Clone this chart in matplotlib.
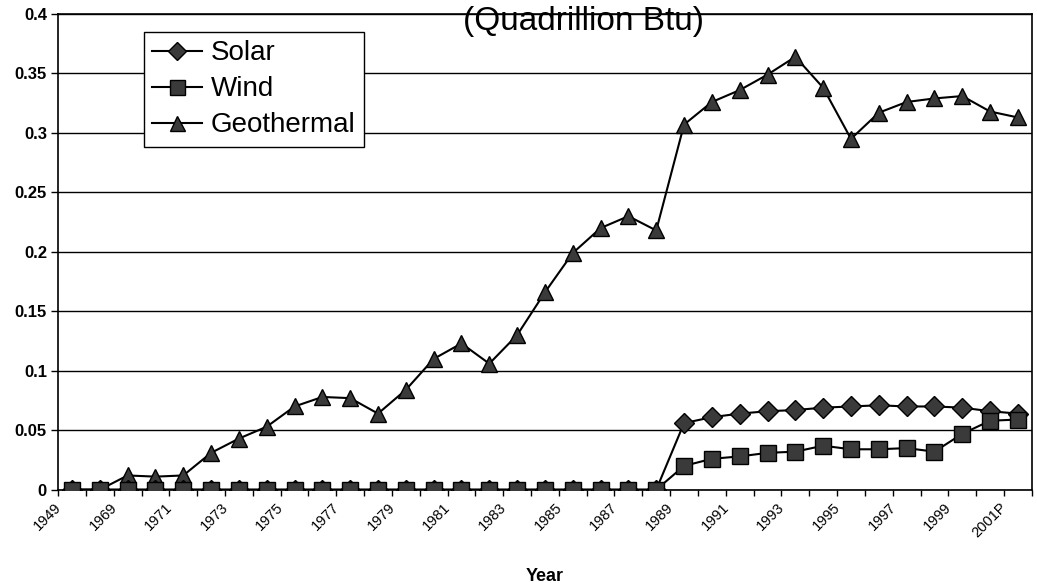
import numpy as np
import matplotlib
matplotlib.use("Agg")
import matplotlib.pyplot as plt
import matplotlib.transforms as mtransforms

# category labels (every other one is shown on the axis)
years = ["1949", "1959", "1969", "1970", "1971", "1972", "1973", "1974", "1975",
         "1976", "1977", "1978", "1979", "1980", "1981", "1982", "1983", "1984",
         "1985", "1986", "1987", "1988", "1989", "1990", "1991", "1992", "1993",
         "1994", "1995", "1996", "1997", "1998", "1999", "2000", "2001P"]

solar = [0, 0, 0, 0, 0, 0, 0, 0, 0, 0, 0, 0, 0, 0, 0, 0, 0, 0, 0, 0, 0, 0,
         0.056, 0.061, 0.064, 0.066, 0.067, 0.069, 0.070, 0.071, 0.070, 0.070,
         0.069, 0.066, 0.064]

wind = [0, 0, 0, 0, 0, 0, 0, 0, 0, 0, 0, 0, 0, 0, 0, 0, 0, 0, 0, 0, 0, 0,
        0.020, 0.026, 0.028, 0.031, 0.032, 0.037, 0.034, 0.034, 0.035, 0.032,
        0.047, 0.058, 0.059]

geothermal = [0, 0, 0.012, 0.011, 0.012, 0.031, 0.043, 0.053, 0.070, 0.078,
              0.077, 0.064, 0.084, 0.110, 0.123, 0.106, 0.130, 0.166, 0.199,
              0.220, 0.230, 0.218, 0.307, 0.326, 0.336, 0.349, 0.364, 0.338,
              0.295, 0.317, 0.326, 0.329, 0.331, 0.318, 0.313]

plt.rcParams['font.family'] = ['Liberation Sans', 'DejaVu Sans']

fig = plt.figure(figsize=(10.37, 5.83), dpi=100)
ax = fig.add_axes([0.056, 0.16, 0.939, 0.816])

x = np.arange(len(years))
fc = '#3a3a3a'

ax.plot(x, geothermal, color='black', lw=1.5, marker='^', ms=12,
        mfc=fc, mec='black', mew=1, label='Geothermal', zorder=3)
ax.plot(x, solar, color='black', lw=1.5, marker='D', ms=10,
        mfc=fc, mec='black', mew=1, label='Solar', zorder=4)
ax.plot(x, wind, color='black', lw=1.5, marker='s', ms=12,
        mfc=fc, mec='black', mew=1, label='Wind', zorder=5)

ax.set_xlim(-0.5, len(years) - 0.5)
ax.set_ylim(0, 0.4)
ax.set_yticks(np.arange(0, 0.401, 0.05))
ax.set_yticklabels(['0', '0.05', '0.1', '0.15', '0.2', '0.25', '0.3', '0.35', '0.4'],
                   fontsize=12, fontweight='bold')
ax.yaxis.grid(True, color='black', lw=1)
ax.set_axisbelow(True)

ax.set_xticks(x[::2])
ax.set_xticklabels(years[::2], rotation=45, ha='right', rotation_mode='anchor',
                   fontsize=10.5)
ax.set_xticks(np.arange(-0.5, len(years), 1), minor=True)
ax.tick_params(axis='x', which='major', length=0, pad=9)
ax.tick_params(axis='x', which='minor', length=4, direction='out', width=1)
ax.tick_params(axis='y', length=5, width=1, direction='out', pad=3)

# shift the rotated year labels a little left, like the original
shift = mtransforms.ScaledTranslation(-18 / 100, 2 / 100, fig.dpi_scale_trans)
for lab in ax.get_xticklabels():
    lab.set_transform(lab.get_transform() + shift)

for s in ax.spines.values():
    s.set_linewidth(1.2)
    s.set_color('black')

ax.set_xlabel('Year', fontsize=13, fontweight='bold', labelpad=20)

ax.text(0.540, 0.985, '(Quadrillion Btu)', transform=ax.transAxes,
        ha='center', va='center', fontsize=24, zorder=6)

h, l = ax.get_legend_handles_labels()
order = [1, 2, 0]
leg = ax.legend([h[i] for i in order], [l[i] for i in order],
                loc='upper left', bbox_to_anchor=(0.088, 0.962), fontsize=20,
                frameon=True, fancybox=False, edgecolor='black',
                borderaxespad=0, handlelength=1.8, handletextpad=0.3,
                borderpad=0.3, labelspacing=0.36, markerscale=0.9)
leg.get_frame().set_linewidth(1)
leg.get_frame().set_alpha(1)

fig.savefig('out.png', dpi=100)
